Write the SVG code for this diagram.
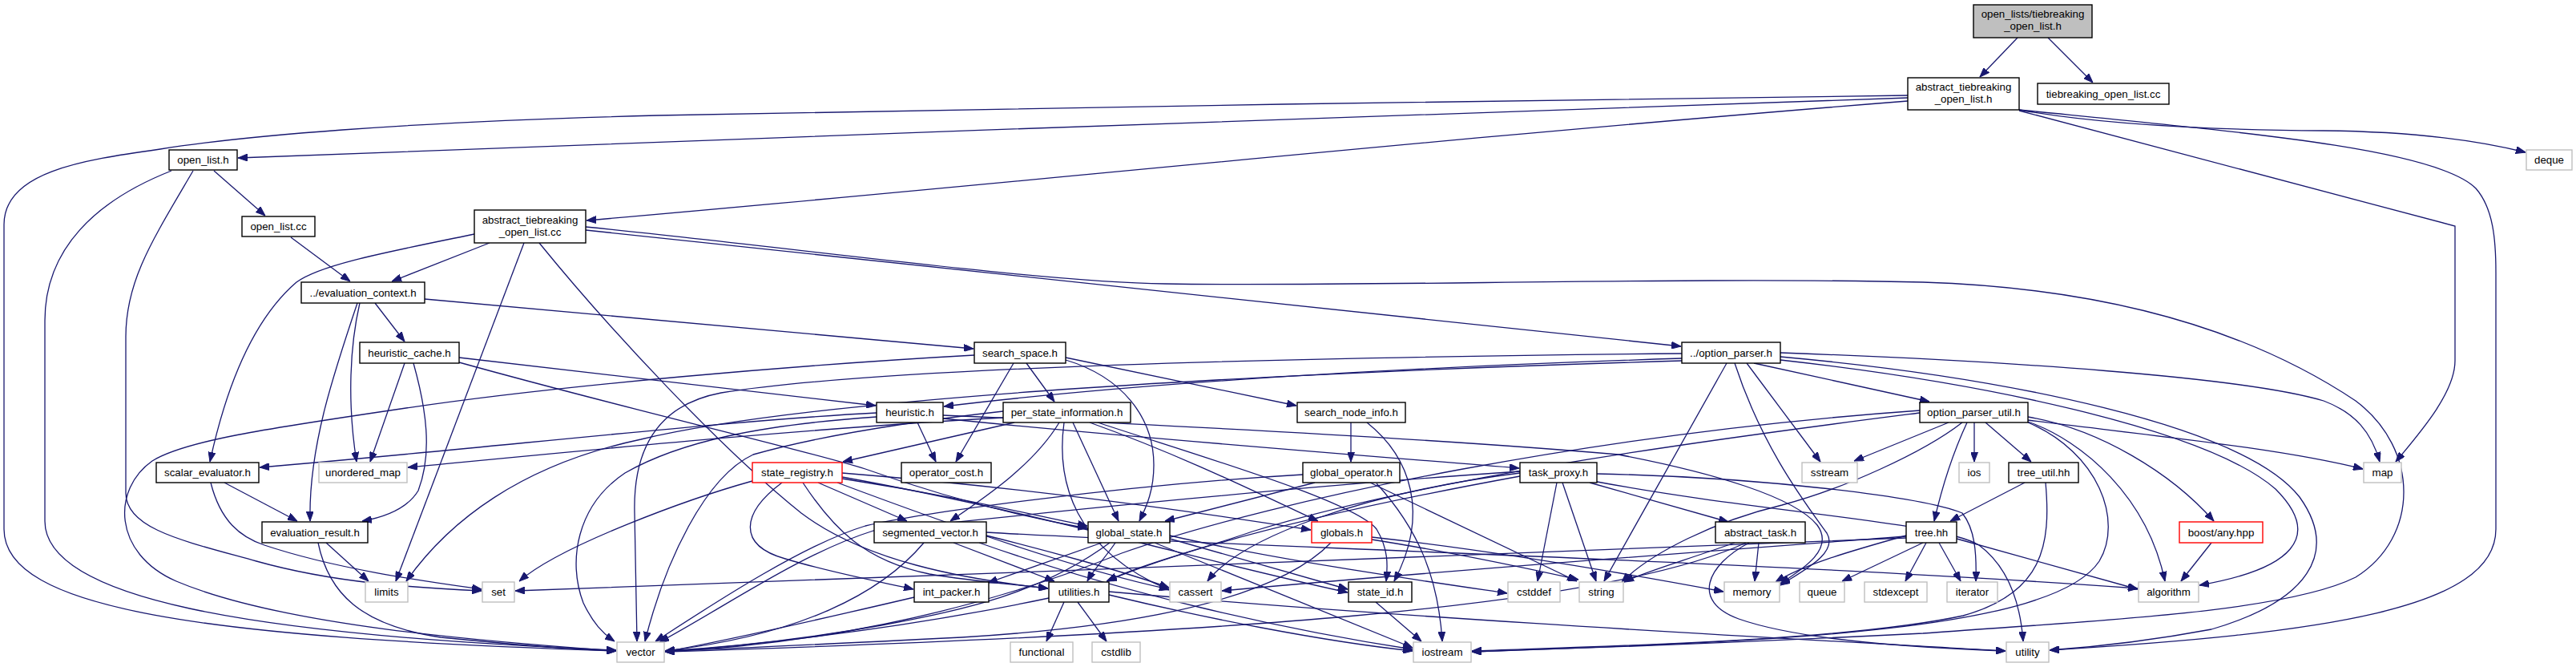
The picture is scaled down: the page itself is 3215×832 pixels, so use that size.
<svg xmlns="http://www.w3.org/2000/svg" width="3215" height="832" viewBox="0 0 3215 832">
<style>
.e path{fill:none;stroke:#191970;stroke-width:1.3;marker-end:url(#a)}
.n rect{fill:#fff;stroke:#000;stroke-width:1.4}
.g rect{fill:#fff;stroke:#bfbfbf;stroke-width:1.4}
.r rect{fill:#fff;stroke:#ff0000;stroke-width:1.4}
.root rect{fill:#bfbfbf;stroke:#000;stroke-width:1.4}
text{font-family:"Liberation Sans",Arial,sans-serif;font-size:13.3px;text-anchor:middle;fill:#000}
</style>
<defs>
<marker id="a" markerWidth="12" markerHeight="9" refX="12" refY="4.5" orient="auto" markerUnits="userSpaceOnUse">
<path d="M0,0 L12,4.5 L0,9 z" fill="#191970" stroke="#191970" stroke-width="1"/>
</marker>
</defs>
<rect width="3215" height="832" fill="#fff"/>
<g id="edges" class="e">
<path d="M2518,47 L2471,96"/>
<path d="M2556,47 L2612,103"/>
<path d="M2381,119 C2000,123 1200,136 820,144 C500,152 300,170 200,186 C100,200 5,215 5,280 L5,660 C5,760 250,795 769,812"/>
<path d="M2381,122 C1900,137 900,174 297,197"/>
<path d="M2381,126 C1800,172 1200,235 732,275"/>
<path d="M2520,137 C2620,155 2750,162 2900,163 C3000,164 3080,172 3152,190"/>
<path d="M2520,137 C2800,165 3040,185 3090,235 C3112,260 3115,300 3115,340 L3115,660 C3115,760 2900,790 2558,811"/>
<path d="M2520,138 L3064,282 L3064,450 C3064,490 3020,540 2990,576"/>
<path d="M267,213 L331,269"/>
<path d="M214,213 C120,250 56,310 56,400 L56,650 C56,745 300,792 769,811"/>
<path d="M241,213 C190,300 157,350 157,420 L157,615 C157,660 230,675 320,700 C420,728 520,733 601,737"/>
<path d="M363,296 L437,351"/>
<path d="M592,292 C480,315 400,330 370,352 C320,395 285,470 262,576"/>
<path d="M611,303 L489,351"/>
<path d="M654,303 L494,725"/>
<path d="M673,303 C760,410 900,560 1000,640 C1080,700 1200,722 1308,734"/>
<path d="M731,287 L2098,432"/>
<path d="M731,283 C1000,310 1300,352 1454,354 C1700,358 2100,345 2400,352 C2650,360 2820,420 2940,500 C3020,560 3020,670 2940,720 C2850,765 2600,775 2400,790 C2200,800 2000,808 1837,813"/>
<path d="M468,378 L505,426"/>
<path d="M449,378 C437,430 433,500 445,576"/>
<path d="M446,378 C415,470 385,560 387,650"/>
<path d="M530,373 L1215,435"/>
<path d="M505,453 L462,576"/>
<path d="M516,453 C532,510 540,565 522,612 C508,635 480,645 452,650"/>
<path d="M573,446 L1093,506"/>
<path d="M573,452 C800,515 1000,560 1080,585 C1150,610 1250,640 1357,659"/>
<path d="M1216,443 C1000,455 700,480 500,510 C330,535 230,550 190,575 C140,610 140,690 220,725 C350,780 600,800 769,812"/>
<path d="M1265,453 L1193,576"/>
<path d="M1281,453 L1316,501"/>
<path d="M1330,449 C1400,470 1440,520 1440,580 C1440,610 1432,630 1422,650"/>
<path d="M1330,446 L1618,506"/>
<path d="M1145,527 L1168,576"/>
<path d="M1094,515 C900,525 600,560 324,583"/>
<path d="M1094,520 C950,530 850,550 780,590 C720,630 708,700 728,752 C740,777 752,790 767,800"/>
<path d="M1177,522 C1400,545 1700,568 1896,584"/>
<path d="M1177,518 C1450,530 1800,548 2020,567 C2140,590 2240,620 2268,655 C2290,685 2250,710 2222,728"/>
<path d="M1266,527 L1052,576"/>
<path d="M1322,527 C1290,580 1230,620 1186,650"/>
<path d="M1339,527 L1396,650"/>
<path d="M1252,521 C1000,535 750,560 509,583"/>
<path d="M1252,513 C1100,530 1000,550 940,567 C880,595 830,700 805,800"/>
<path d="M1328,527 C1318,600 1340,685 1459,736"/>
<path d="M1360,527 C1480,570 1580,620 1645,650"/>
<path d="M1370,527 C1500,570 1690,625 1718,660 C1733,685 1732,705 1730,725"/>
<path d="M1021,602 L1132,650"/>
<path d="M1051,597 C1200,620 1300,645 1357,656"/>
<path d="M976,602 C925,640 920,680 980,697 C1040,715 1100,726 1140,735"/>
<path d="M1002,602 C1040,660 1080,700 1160,716 C1220,726 1270,729 1308,734"/>
<path d="M939,600 C860,622 700,680 648,725"/>
<path d="M1051,590 C1300,610 1500,640 1636,661"/>
<path d="M1051,595 C1300,640 1500,700 1682,739"/>
<path d="M1045,602 C1200,660 1350,712 1459,735"/>
<path d="M1153,677 C1100,740 1000,792 830,812"/>
<path d="M1190,677 L1316,725"/>
<path d="M1231,668 C1300,685 1400,712 1459,733"/>
<path d="M1222,677 C1400,740 1600,785 1763,810"/>
<path d="M1231,664 C1500,680 2200,700 2668,734"/>
<path d="M1375,677 L1233,727"/>
<path d="M1392,677 C1380,695 1365,710 1357,725"/>
<path d="M1385,677 C1300,740 1200,762 1100,780 C1000,798 900,808 830,812"/>
<path d="M1460,672 L1682,735"/>
<path d="M1441,677 L1763,808"/>
<path d="M1460,668 C1600,700 1800,728 1881,740"/>
<path d="M1661,677 C1600,740 1450,780 1200,795 C1000,805 900,810 830,812"/>
<path d="M1712,670 C1850,685 2000,710 2151,738"/>
<path d="M1712,673 C1820,690 1920,712 1970,723"/>
<path d="M1717,751 L1774,800"/>
<path d="M1141,745 C1000,778 900,800 830,813"/>
<path d="M1328,751 L1306,800"/>
<path d="M1345,751 L1381,800"/>
<path d="M1309,746 C1100,790 900,808 830,813"/>
<path d="M1384,742 C1500,770 1650,800 1763,812"/>
<path d="M1384,738 C1800,775 2300,800 2503,812"/>
<path d="M1686,527 L1686,576"/>
<path d="M1706,527 C1760,570 1785,640 1740,725"/>
<path d="M1641,602 L1454,650"/>
<path d="M1626,592 C1400,605 1150,640 1080,656 C1000,680 880,760 818,800"/>
<path d="M1710,602 L1968,725"/>
<path d="M1718,603 C1770,660 1795,720 1800,800"/>
<path d="M1943,602 L1919,725"/>
<path d="M1950,602 L1992,725"/>
<path d="M1984,602 L2157,651"/>
<path d="M1897,590 C1700,615 1550,670 1507,725"/>
<path d="M1897,594 C1700,630 1500,675 1381,725"/>
<path d="M1897,588 C1600,608 1300,640 1090,662 C1000,690 900,760 823,801"/>
<path d="M1993,591 C2200,595 2400,620 2449,640 C2465,660 2467,690 2466,725"/>
<path d="M1988,600 C2200,640 2420,650 2470,680 C2510,710 2522,760 2525,800"/>
<path d="M2195,677 L2190,725"/>
<path d="M2165,677 C2100,700 2050,714 2027,726"/>
<path d="M2179,677 C2000,760 1500,792 830,813"/>
<path d="M2183,677 C2130,705 2110,750 2170,772 C2250,800 2400,808 2503,812"/>
<path d="M2189,453 L2408,501"/>
<path d="M2180,453 L2272,576"/>
<path d="M2155,453 L2002,725"/>
<path d="M2165,453 C2200,560 2255,630 2280,665 C2295,690 2250,712 2222,730"/>
<path d="M2222,440 C2500,450 2800,470 2900,500 C2940,515 2960,540 2970,576"/>
<path d="M2222,449 C2500,480 2760,540 2840,610 C2900,670 2860,710 2745,730"/>
<path d="M2222,445 C2500,470 2800,530 2870,620 C2920,690 2880,750 2760,785 C2680,800 2600,808 2558,811"/>
<path d="M2099,441 C1600,446 1100,458 900,490 C820,505 790,560 792,640 L795,800"/>
<path d="M2099,447 C1700,460 1400,480 1178,507"/>
<path d="M2099,450 C1500,468 1000,500 800,548 C650,580 560,650 507,725"/>
<path d="M2432,527 L2314,575"/>
<path d="M2464,527 L2464,576"/>
<path d="M2478,527 L2535,576"/>
<path d="M2455,527 C2435,570 2422,615 2414,650"/>
<path d="M2449,527 C2400,565 2300,610 2224,630 C2140,650 2060,690 2024,726"/>
<path d="M2531,524 C2700,545 2850,560 2949,585"/>
<path d="M2531,520 C2620,535 2710,590 2763,650"/>
<path d="M2531,526 C2600,550 2680,620 2702,725"/>
<path d="M2531,527 C2620,565 2650,650 2620,700 C2560,790 2200,800 1837,813"/>
<path d="M2396,515 C2200,540 1800,590 1563,663 C1500,685 1420,705 1382,725"/>
<path d="M2396,512 C2000,540 1600,620 1400,690 C1200,770 1000,805 830,813"/>
<path d="M2527,602 L2434,650"/>
<path d="M2553,602 C2560,680 2550,740 2450,768 C2300,800 2000,806 1837,812"/>
<path d="M2400,677 L2299,725"/>
<path d="M2404,677 L2378,725"/>
<path d="M2420,677 L2447,725"/>
<path d="M2442,672 L2668,735"/>
<path d="M2379,668 C2300,690 2250,705 2216,726"/>
<path d="M2379,669 C2100,690 1800,712 1525,737"/>
<path d="M2379,671 C2000,690 1200,715 643,737"/>
<path d="M2760,677 L2722,725"/>
<path d="M407,677 L460,725"/>
<path d="M397,677 C410,740 450,780 550,795 C650,805 720,810 769,812"/>
<path d="M280,602 L371,650"/>
<path d="M263,602 C275,650 300,670 330,680 C420,710 530,725 601,735"/>
</g>
<g id="root" class="root"><rect x="2463" y="6" width="148" height="41"/><text x="2537" y="22">open_lists/tiebreaking</text><text x="2537" y="37">_open_list.h</text></g>
<g id="abstract_tiebreaking_open_list_h" class="n"><rect x="2381" y="97" width="139" height="40"/><text x="2450.5" y="113">abstract_tiebreaking</text><text x="2450.5" y="128">_open_list.h</text></g>
<g id="tiebreaking_open_list_cc" class="n"><rect x="2543" y="104" width="164" height="26"/><text x="2625" y="121.5">tiebreaking_open_list.cc</text></g>
<g id="deque" class="g"><rect x="3153" y="187" width="57" height="25"/><text x="3181.5" y="204">deque</text></g>
<g id="open_list_h" class="n"><rect x="211" y="187" width="85" height="25"/><text x="253.5" y="204">open_list.h</text></g>
<g id="open_list_cc" class="n"><rect x="302" y="270" width="91" height="25"/><text x="347.5" y="287">open_list.cc</text></g>
<g id="abstract_tiebreaking_open_list_cc" class="n"><rect x="592" y="262" width="139" height="41"/><text x="661.5" y="279">abstract_tiebreaking</text><text x="661.5" y="294">_open_list.cc</text></g>
<g id="evaluation_context_h" class="n"><rect x="376" y="352" width="154" height="26"/><text x="453" y="369.5">../evaluation_context.h</text></g>
<g id="heuristic_cache_h" class="n"><rect x="449" y="427" width="124" height="26"/><text x="511" y="444.5">heuristic_cache.h</text></g>
<g id="search_space_h" class="n"><rect x="1216" y="427" width="114" height="26"/><text x="1273" y="444.5">search_space.h</text></g>
<g id="option_parser_h" class="n"><rect x="2099" y="427" width="123" height="26"/><text x="2160.5" y="444.5">../option_parser.h</text></g>
<g id="heuristic_h" class="n"><rect x="1094" y="502" width="83" height="25"/><text x="1135.5" y="519">heuristic.h</text></g>
<g id="per_state_information_h" class="n"><rect x="1252" y="502" width="159" height="25"/><text x="1331.5" y="519">per_state_information.h</text></g>
<g id="search_node_info_h" class="n"><rect x="1619" y="502" width="135" height="25"/><text x="1686.5" y="519">search_node_info.h</text></g>
<g id="option_parser_util_h" class="n"><rect x="2396" y="502" width="135" height="25"/><text x="2463.5" y="519">option_parser_util.h</text></g>
<g id="scalar_evaluator_h" class="n"><rect x="195" y="577" width="128" height="25"/><text x="259" y="594">scalar_evaluator.h</text></g>
<g id="unordered_map" class="g"><rect x="398" y="577" width="110" height="25"/><text x="453" y="594">unordered_map</text></g>
<g id="state_registry_h" class="r"><rect x="939" y="577" width="112" height="25"/><text x="995" y="594">state_registry.h</text></g>
<g id="operator_cost_h" class="n"><rect x="1125" y="577" width="112" height="25"/><text x="1181" y="594">operator_cost.h</text></g>
<g id="global_operator_h" class="n"><rect x="1626" y="577" width="121" height="25"/><text x="1686.5" y="594">global_operator.h</text></g>
<g id="task_proxy_h" class="n"><rect x="1897" y="577" width="96" height="25"/><text x="1945" y="594">task_proxy.h</text></g>
<g id="sstream" class="g"><rect x="2249" y="577" width="69" height="25"/><text x="2283.5" y="594">sstream</text></g>
<g id="ios" class="g"><rect x="2445" y="577" width="38" height="25"/><text x="2464" y="594">ios</text></g>
<g id="tree_util_hh" class="n"><rect x="2507" y="577" width="87" height="25"/><text x="2550.5" y="594">tree_util.hh</text></g>
<g id="map" class="g"><rect x="2950" y="577" width="47" height="25"/><text x="2973.5" y="594">map</text></g>
<g id="evaluation_result_h" class="n"><rect x="327" y="651" width="132" height="26"/><text x="393" y="668.5">evaluation_result.h</text></g>
<g id="segmented_vector_h" class="n"><rect x="1091" y="651" width="140" height="26"/><text x="1161" y="668.5">segmented_vector.h</text></g>
<g id="global_state_h" class="n"><rect x="1358" y="651" width="102" height="26"/><text x="1409" y="668.5">global_state.h</text></g>
<g id="globals_h" class="r"><rect x="1637" y="651" width="75" height="26"/><text x="1674.5" y="668.5">globals.h</text></g>
<g id="abstract_task_h" class="n"><rect x="2141" y="651" width="112" height="26"/><text x="2197" y="668.5">abstract_task.h</text></g>
<g id="tree_hh" class="n"><rect x="2379" y="651" width="63" height="26"/><text x="2410.5" y="668.5">tree.hh</text></g>
<g id="boost_any_hpp" class="r"><rect x="2720" y="651" width="104" height="26"/><text x="2772" y="668.5">boost/any.hpp</text></g>
<g id="limits" class="g"><rect x="456" y="726" width="53" height="25"/><text x="482.5" y="743">limits</text></g>
<g id="set" class="g"><rect x="602" y="726" width="40" height="25"/><text x="622" y="743">set</text></g>
<g id="int_packer_h" class="n"><rect x="1141" y="726" width="93" height="25"/><text x="1187.5" y="743">int_packer.h</text></g>
<g id="utilities_h" class="n"><rect x="1309" y="726" width="75" height="25"/><text x="1346.5" y="743">utilities.h</text></g>
<g id="cassert" class="g"><rect x="1460" y="726" width="64" height="25"/><text x="1492" y="743">cassert</text></g>
<g id="state_id_h" class="n"><rect x="1683" y="726" width="79" height="25"/><text x="1722.5" y="743">state_id.h</text></g>
<g id="cstddef" class="g"><rect x="1882" y="726" width="65" height="25"/><text x="1914.5" y="743">cstddef</text></g>
<g id="string" class="g"><rect x="1971" y="726" width="55" height="25"/><text x="1998.5" y="743">string</text></g>
<g id="memory" class="g"><rect x="2152" y="726" width="69" height="25"/><text x="2186.5" y="743">memory</text></g>
<g id="queue" class="g"><rect x="2246" y="726" width="56" height="25"/><text x="2274" y="743">queue</text></g>
<g id="stdexcept" class="g"><rect x="2327" y="726" width="78" height="25"/><text x="2366" y="743">stdexcept</text></g>
<g id="iterator" class="g"><rect x="2430" y="726" width="63" height="25"/><text x="2461.5" y="743">iterator</text></g>
<g id="algorithm" class="g"><rect x="2669" y="726" width="75" height="25"/><text x="2706.5" y="743">algorithm</text></g>
<g id="vector" class="g"><rect x="770" y="801" width="59" height="25"/><text x="799.5" y="818">vector</text></g>
<g id="functional" class="g"><rect x="1261" y="801" width="78" height="25"/><text x="1300" y="818">functional</text></g>
<g id="cstdlib" class="g"><rect x="1363" y="801" width="60" height="25"/><text x="1393" y="818">cstdlib</text></g>
<g id="iostream" class="g"><rect x="1764" y="801" width="72" height="25"/><text x="1800" y="818">iostream</text></g>
<g id="utility" class="g"><rect x="2504" y="801" width="53" height="25"/><text x="2530.5" y="818">utility</text></g>
</svg>
